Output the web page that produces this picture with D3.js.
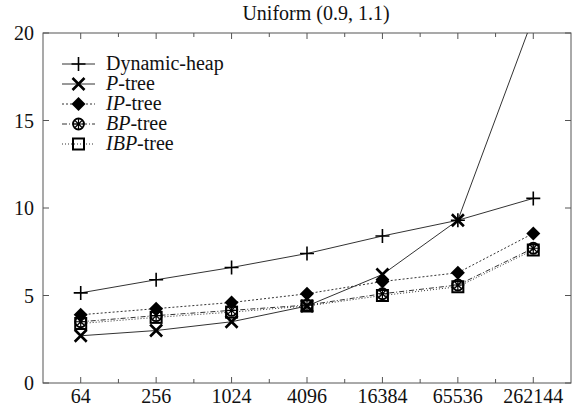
<!DOCTYPE html>
<html>
<head>
<meta charset="utf-8">
<script src="https://cdn.jsdelivr.net/npm/d3@7/dist/d3.min.js"></script>
<style>
  body { margin: 0; background: #fff; }
</style>
</head>
<body>
<svg id="chart" width="572" height="407" font-family="'Liberation Serif', 'Times New Roman', 'DejaVu Serif', serif"></svg>
<script>
// data
var sizes = [64, 256, 1024, 4096, 16384, 65536, 262144];
var xTickLabels = ["64", "256", "1024", "4096", "16384", "65536", "262144"];
var yTicks = [0, 5, 10, 15, 20];

var dynamicHeap = [5.15, 5.9, 6.6, 7.4, 8.4, 9.3, 10.55];
var pTree       = [2.7, 3.0, 3.5, 4.4, 6.2, 9.3, 20.9];
var ipTree      = [3.9, 4.25, 4.6, 5.1, 5.8, 6.3, 8.55];
var bpTree      = [3.5, 3.85, 4.15, 4.45, 5.1, 5.6, 7.7];
var ibpTree     = [3.4, 3.75, 4.05, 4.4, 5.0, 5.5, 7.6];

var title = "Uniform (0.9, 1.1)";

var series = [
  {name: ["", "Dynamic-heap"], values: dynamicHeap, dash: null, marker: "plus"},
  {name: ["P", "-tree"], values: pTree, dash: null, marker: "cross"},
  {name: ["IP", "-tree"], values: ipTree, dash: "2,2", marker: "diamond"},
  {name: ["BP", "-tree"], values: bpTree, dash: "5,2,1,2", marker: "wheel"},
  {name: ["IBP", "-tree"], values: ibpTree, dash: "1,2", marker: "square"}
];

var svg = d3.select("#chart");
var pLeft = 43, pRight = 571, pTop = 33, pBottom = 383;
var fontSize = 20;

var x = d3.scaleLog().base(2).domain([32, 524288]).range([pLeft, pRight]);
var y = d3.scaleLinear().domain([0, 20]).range([pBottom, pTop]);

svg.append("defs").append("clipPath").attr("id", "plotclip")
  .append("rect").attr("x", pLeft).attr("y", pTop)
  .attr("width", pRight - pLeft).attr("height", pBottom - pTop);

// frame
svg.append("rect")
  .attr("x", pLeft).attr("y", pTop)
  .attr("width", pRight - pLeft).attr("height", pBottom - pTop)
  .attr("fill", "none").attr("stroke", "#555").attr("stroke-width", 1);

// x ticks (every power of two, labels on even ones)
var allX = d3.range(6, 19).map(function(p) { return Math.pow(2, p); });
allX.forEach(function(v) {
  var major = sizes.indexOf(v) >= 0;
  var len = major ? 6 : 4;
  svg.append("line").attr("x1", x(v)).attr("x2", x(v))
    .attr("y1", pBottom).attr("y2", pBottom - len)
    .attr("stroke", "#555");
  svg.append("line").attr("x1", x(v)).attr("x2", x(v))
    .attr("y1", pTop).attr("y2", pTop + len)
    .attr("stroke", "#555");
});
svg.selectAll(".xlab").data(sizes).enter().append("text")
  .attr("class", "xlab")
  .attr("x", function(d) { return x(d); })
  .attr("y", 403)
  .attr("text-anchor", "middle")
  .attr("font-size", fontSize)
  .attr("fill", "#111")
  .text(function(d, i) { return xTickLabels[i]; });

// y ticks
yTicks.forEach(function(v) {
  svg.append("line").attr("x1", pLeft).attr("x2", pLeft + 6)
    .attr("y1", y(v)).attr("y2", y(v)).attr("stroke", "#555");
  svg.append("line").attr("x1", pRight).attr("x2", pRight - 6)
    .attr("y1", y(v)).attr("y2", y(v)).attr("stroke", "#555");
});
svg.selectAll(".ylab").data(yTicks).enter().append("text")
  .attr("class", "ylab")
  .attr("x", 34)
  .attr("y", function(d) { return y(d) + 7; })
  .attr("text-anchor", "end")
  .attr("font-size", fontSize)
  .attr("fill", "#111")
  .text(function(d) { return d; });

// title
svg.append("text").attr("x", 316).attr("y", 20)
  .attr("text-anchor", "middle").attr("font-size", fontSize)
  .attr("fill", "#111")
  .text(title);

function drawMarker(g, kind, cx, cy) {
  var s = 6;
  if (kind == "plus") {
    g.append("path").attr("d", "M" + (cx - 7) + "," + cy + "H" + (cx + 7) + "M" + cx + "," + (cy - 7) + "V" + (cy + 7))
      .attr("stroke", "#000").attr("stroke-width", 1.6).attr("fill", "none");
  } else if (kind == "cross") {
    g.append("path").attr("d", "M" + (cx - s) + "," + (cy - s) + "L" + (cx + s) + "," + (cy + s) + "M" + (cx - s) + "," + (cy + s) + "L" + (cx + s) + "," + (cy - s))
      .attr("stroke", "#000").attr("stroke-width", 2.6).attr("fill", "none");
  } else if (kind == "diamond") {
    g.append("path").attr("d", "M" + cx + "," + (cy - 7) + "L" + (cx + 7) + "," + cy + "L" + cx + "," + (cy + 7) + "L" + (cx - 7) + "," + cy + "Z")
      .attr("fill", "#000");
  } else if (kind == "wheel") {
    g.append("circle").attr("cx", cx).attr("cy", cy).attr("r", 5.5)
      .attr("fill", "none").attr("stroke", "#000").attr("stroke-width", 1.8);
    g.append("path").attr("d", "M" + (cx - 5) + "," + cy + "H" + (cx + 5) + "M" + cx + "," + (cy - 5) + "V" + (cy + 5) +
        "M" + (cx - 3.5) + "," + (cy - 3.5) + "L" + (cx + 3.5) + "," + (cy + 3.5) + "M" + (cx - 3.5) + "," + (cy + 3.5) + "L" + (cx + 3.5) + "," + (cy - 3.5))
      .attr("stroke", "#000").attr("stroke-width", 1.2).attr("fill", "none");
  } else if (kind == "square") {
    g.append("rect").attr("x", cx - 5.5).attr("y", cy - 5.5).attr("width", 11).attr("height", 11)
      .attr("fill", "none").attr("stroke", "#000").attr("stroke-width", 2);
  }
}

var line = d3.line()
  .x(function(d, i) { return x(sizes[i]); })
  .y(function(d) { return y(d); });

var plot = svg.append("g").attr("clip-path", "url(#plotclip)");

series.forEach(function(s) {
  plot.append("path")
    .datum(s.values)
    .attr("d", line)
    .attr("fill", "none")
    .attr("stroke", "#333")
    .attr("stroke-width", 1)
    .attr("stroke-dasharray", s.dash);
});
series.forEach(function(s) {
  var g = plot.append("g");
  s.values.forEach(function(v, i) {
    drawMarker(g, s.marker, x(sizes[i]), y(v));
  });
});

// legend
var legend = svg.append("g");
series.forEach(function(s, i) {
  var ly = 64 + i * 20;
  legend.append("line").attr("x1", 62).attr("x2", 95)
    .attr("y1", ly).attr("y2", ly)
    .attr("stroke", "#333").attr("stroke-width", 1)
    .attr("stroke-dasharray", s.dash);
  drawMarker(legend, s.marker, 78.5, ly);
  var t = legend.append("text").attr("x", 106).attr("y", ly + 6)
    .attr("font-size", fontSize).attr("fill", "#111");
  if (s.name[0]) t.append("tspan").attr("font-style", "italic").text(s.name[0]);
  t.append("tspan").text(s.name[1]);
});
</script>
</body>
</html>
